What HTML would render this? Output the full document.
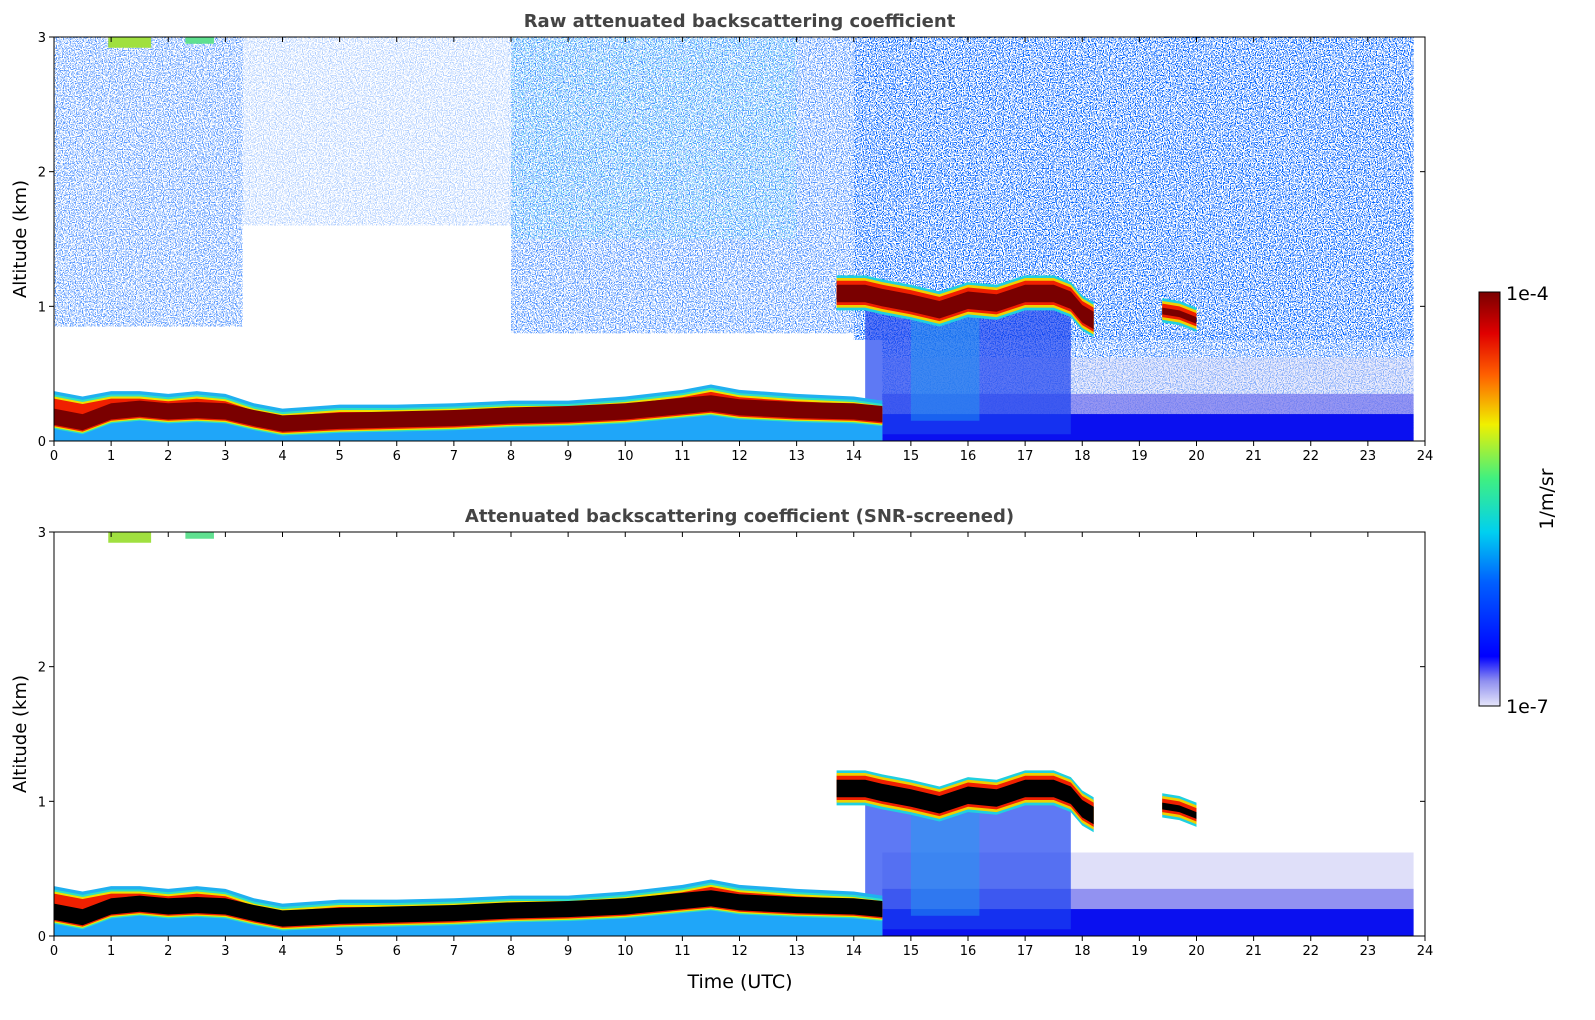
<!DOCTYPE html>
<html><head><meta charset="utf-8"><style>
html,body{margin:0;padding:0;background:#fff;overflow:hidden;width:1595px;height:1020px}
svg{display:block}
svg text{font-family:"DejaVu Sans","Liberation Sans",sans-serif}
</style></head><body>
<svg id="s" width="1595" height="1020" xmlns="http://www.w3.org/2000/svg">
<defs>
<filter id="spk" x="0" y="0" width="1" height="1" filterUnits="objectBoundingBox">
<feTurbulence type="fractalNoise" baseFrequency="0.85" numOctaves="1" seed="4" result="n"/>
<feColorMatrix in="n" type="matrix" values="0 0 0 0 0.0  0 0 0 0 0.12  0 0 0 0 1  14 0 0 0 -7.0" result="d"/>
<feComposite in="d" in2="SourceGraphic" operator="in"/>
</filter>
<filter id="spk2" x="0" y="0" width="1" height="1" filterUnits="objectBoundingBox">
<feTurbulence type="fractalNoise" baseFrequency="0.8" numOctaves="1" seed="9" result="n"/>
<feColorMatrix in="n" type="matrix" values="0 0 0 0 0.1  0 0 0 0 0.8  0 0 0 0 0.9  14 0 0 0 -7.8" result="d"/>
<feComposite in="d" in2="SourceGraphic" operator="in"/>
</filter>
<linearGradient id="cb" x1="0" y1="1" x2="0" y2="0">
<stop offset="0" stop-color="#e6e6fa"/><stop offset="0.06" stop-color="#9090f0"/>
<stop offset="0.12" stop-color="#0000ff"/><stop offset="0.3" stop-color="#0060ff"/>
<stop offset="0.42" stop-color="#00d0f0"/><stop offset="0.55" stop-color="#40f080"/>
<stop offset="0.68" stop-color="#f0f000"/><stop offset="0.8" stop-color="#ff6000"/>
<stop offset="0.9" stop-color="#e00000"/><stop offset="1" stop-color="#7a0000"/>
</linearGradient>
</defs>
</svg>
<script>
const layerT=[0,0.5,1,1.5,2,2.5,3,3.5,4,5,6,7,8,9,10,11,11.5,12,13,14,14.5];
const layerTop=[0.37,0.33,0.37,0.37,0.35,0.37,0.35,0.28,0.24,0.27,0.27,0.28,0.3,0.3,0.33,0.38,0.42,0.38,0.35,0.33,0.3];
const layerMid=[0.18,0.14,0.22,0.24,0.22,0.23,0.22,0.17,0.13,0.15,0.16,0.17,0.19,0.2,0.22,0.26,0.28,0.25,0.23,0.22,0.2];
const cloudT=[13.7,14.2,14.5,15,15.5,16,16.5,17,17.5,17.8,18,18.2];
const cloudMid=[1.1,1.1,1.07,1.03,0.98,1.05,1.03,1.1,1.1,1.05,0.95,0.9];
const cloud2T=[19.4,19.7,20];
const cloud2Mid=[0.97,0.95,0.9];
const noiseStart=[0,3.3,8,14];
const noiseEnd=[3.3,8,14,23.8];
const noiseBase=[0.85,1.6,0.8,0.75];
const noiseOpac=[0.65,0.3,0.7,1];
const xTicks=[0,1,2,3,4,5,6,7,8,9,10,11,12,13,14,15,16,17,18,19,20,21,22,23,24];
const yTicks=[0,1,2,3];
const panels=[{top:37,title:'Raw attenuated backscattering coefficient',raw:true},{top:532,title:'Attenuated backscattering coefficient (SNR-screened)',raw:false}];
const NS='http://www.w3.org/2000/svg';
const s=document.getElementById('s');
const X0=54,X1=1425,H=404;
function mk(t,a,p){const e=document.createElementNS(NS,t);for(const k in a)e.setAttribute(k,a[k]);(p||s).appendChild(e);return e;}
panels.forEach((P,pi)=>{
 const g=mk('g',{});
 
 
 const x=t=>X0+(X1-X0)*t/24, y=h=>P.top+H-H*h/3;
 function band(ts,tops,bots,fill){let pts=ts.map((t,i)=>x(t)+','+y(tops[i]));pts=pts.concat(ts.slice().reverse().map((t,i)=>x(t)+','+y(bots[ts.length-1-i])));const e=mk('polygon',{points:pts.join(' '),fill:fill},g);return e;}
 if(P.raw){
  noiseStart.forEach((a,i)=>{const r=mk('rect',{x:x(a),y:y(3),width:x(noiseEnd[i])-x(a),height:y(noiseBase[i])-y(3),fill:'#fff',opacity:noiseOpac[i],filter:'url(#spk)'},g);
   
   });
  mk('rect',{x:x(8),y:y(3),width:x(13)-x(8),height:y(1.5)-y(3),fill:'#fff',opacity:0.6,filter:'url(#spk2)'},g);
  mk('rect',{x:x(14.5),y:y(0.8),width:x(23.8)-x(14.5),height:y(0)-y(0.8),fill:'#fff',opacity:0.8,filter:'url(#spk)'},g);
 }
 mk('rect',{x:x(14.5),y:y(0.62),width:x(23.8)-x(14.5),height:y(0)-y(0.62),fill:'#dcdcf8',opacity:P.raw?0.5:0.9},g);
 mk('rect',{x:x(14.5),y:y(0.35),width:x(23.8)-x(14.5),height:y(0)-y(0.35),fill:'#7070ee',opacity:0.7},g);
 mk('rect',{x:x(14.5),y:y(0.2),width:x(23.8)-x(14.5),height:y(0)-y(0.2),fill:'#0a10f0'},g);
 band(cloudT.slice(1,10),cloudMid.slice(1,10).map(v=>v-0.08),cloudT.slice(1,10).map(()=>0.05),'#1a40f0').setAttribute('opacity','0.7');
 band([15,15.6,16.2],[0.95,0.95,0.95],[0.15,0.15,0.15],'#20a0f0').setAttribute('opacity','0.45');
 const z=layerT.map(()=>0);
 band(layerT,layerTop,z,'#20b0f0');
 band(layerT,layerTop.map(v=>v-0.025),layerMid.map(v=>v-0.09),'#30e0c0');
 band(layerT,layerTop.map(v=>v-0.04),layerMid.map(v=>v-0.08),'#f0e000');
 band(layerT,layerTop.map(v=>v-0.055),layerMid.map(v=>v-0.07),'#f02000');
 const dm=band(layerT,layerMid.map(v=>v+0.06),layerMid.map(v=>v-0.06),P.raw?'#7a0000':'#000');
 
 
 band(layerT,layerMid.map(v=>v-0.09),z,'#20a0ff').setAttribute('opacity','0.6');
 [[cloudT,cloudMid],[cloud2T,cloud2Mid]].forEach(([T,M],ci)=>{
  const w=ci?0.05:0.09;
  band(T,M.map(v=>v+w+0.04),M.map(v=>v-w-0.04),'#20d0e0');
  band(T,M.map(v=>v+w+0.02),M.map(v=>v-w-0.02),'#f0d000');
  band(T,M.map(v=>v+w),M.map(v=>v-w),'#f02000');
  const c=band(T,M.map(v=>v+w-0.03),M.map(v=>v-w+0.02),P.raw?'#7a0000':'#000');
  
  
 });
 band([0.95,1.7],[3,3],[2.92,2.92],'#a0e040');band([2.3,2.8],[3,3],[2.95,2.95],'#60e090');
 mk('rect',{x:X0,y:P.top,width:X1-X0,height:H,fill:'none',stroke:'#000','stroke-width':1},g);
 xTicks.forEach(t=>{mk('line',{x1:x(t),x2:x(t),y1:y(0),y2:y(0)+5,stroke:'#000'},g);mk('line',{x1:x(t),x2:x(t),y1:P.top,y2:P.top+5,stroke:'#000'},g);
  const tx=mk('text',{x:x(t),y:y(0)+19,'font-size':13,'text-anchor':'middle'},g);tx.textContent=t;});
 yTicks.forEach(h=>{mk('line',{x1:X0-5,x2:X0,y1:y(h),y2:y(h),stroke:'#000'},g);mk('line',{x1:X1-5,x2:X1,y1:y(h),y2:y(h),stroke:'#000'},g);
  const tx=mk('text',{x:X0-8,y:y(h)+5,'font-size':13,'text-anchor':'end'},g);tx.textContent=h;});
 const tt=mk('text',{x:(X0+X1)/2,y:P.top-10,'font-size':18,'font-weight':'bold','text-anchor':'middle',fill:'#444'},g);tt.textContent=P.title;
 
 
 const yl=mk('text',{x:0,y:0,'font-size':18,'text-anchor':'middle',transform:`translate(26,${P.top+H/2}) rotate(-90)`},g);yl.textContent='Altitude (km)';
 
 
});
const xl=mk('text',{x:740,y:988,'font-size':19,'text-anchor':'middle'});xl.textContent='Time (UTC)';


const cb=mk('rect',{x:1479,y:292,width:21,height:414,fill:'url(#cb)',stroke:'#000'});


const c1=mk('text',{x:1506,y:300,'font-size':19});c1.textContent='1e-4';
const c2=mk('text',{x:1506,y:713,'font-size':19});c2.textContent='1e-7';
const cu=mk('text',{x:0,y:0,'font-size':19,'text-anchor':'middle',transform:'translate(1553,499) rotate(-90)'});cu.textContent='1/m/sr';


</script>
</body></html>
